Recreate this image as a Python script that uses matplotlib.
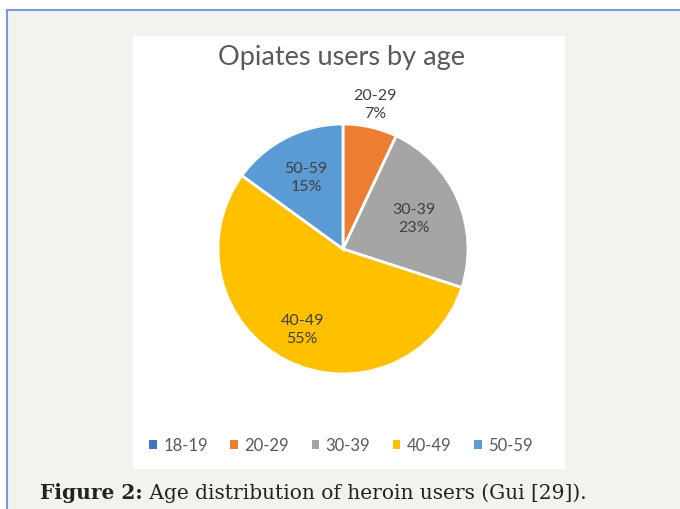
import matplotlib
matplotlib.use("Agg")
import matplotlib.pyplot as plt
from matplotlib.patches import Rectangle
import numpy as np

categories = ["18-19", "20-29", "30-39", "40-49", "50-59"]
values = [0, 7, 23, 55, 15]
colors = ["#4472C4", "#ED7D31", "#A5A5A5", "#FFC000", "#5B9BD5"]
title = "Opiates users by age"
caption_bold = "Figure 2:"
caption_rest = " Age distribution of heroin users (Gui [29])."

W, H = 680, 510
fig = plt.figure(figsize=(W / 100, H / 100), dpi=100)
fig.patch.set_facecolor("white")

def fx(x):
    return x / W

def fy(y):
    return 1 - y / H

# outer page background and border
fig.patches.append(Rectangle((fx(7), 0), 1 - fx(7), fy(11), transform=fig.transFigure,
                             facecolor="#f2f2ee", edgecolor="none", zorder=0))
fig.lines.append(plt.Line2D([fx(7), fx(7)], [0, fy(11)], transform=fig.transFigure,
                            color="#6f9fd8", lw=1.5))
fig.lines.append(plt.Line2D([fx(7), 1], [fy(11), fy(11)], transform=fig.transFigure,
                            color="#6f9fd8", lw=1.5))
# white chart panel
fig.patches.append(Rectangle((fx(133), fy(470)), fx(565) - fx(133), fy(37) - fy(470),
                             transform=fig.transFigure, facecolor="white",
                             edgecolor="none", zorder=1))

cx, cy, r = 343, 250, 125
ax = fig.add_axes([fx(cx - r), fy(cy + r), 2 * r / W, 2 * r / H])
ax.set_zorder(2)
ax.patch.set_alpha(0)
wedges, _ = ax.pie(values, colors=colors, startangle=90, counterclock=False,
                   wedgeprops=dict(edgecolor="white", linewidth=2), radius=1)
ax.set_xlim(-1, 1)
ax.set_ylim(-1, 1)
ax.set_aspect("auto")
ax.axis("off")

label_dist = [0.0, 1.19, 0.62, 0.72, 0.65]
label_font = ["Lato", "DejaVu Sans"]
for w, cat, v, d in zip(wedges, categories, values, label_dist):
    if v == 0:
        continue
    ang = np.deg2rad((w.theta1 + w.theta2) / 2)
    ax.text(d * np.cos(ang), d * np.sin(ang), f"{cat}\n{v}%", ha="center", va="center",
            fontsize=11.5, color="#404040", family=label_font, linespacing=1.35)

fig.text(fx(342), fy(57), title, ha="center", va="center", fontsize=19.5,
         color="#595959", family=label_font, zorder=3)

handles = [Rectangle((0, 0), 1, 1, facecolor=c, edgecolor="none") for c in colors]
leg = fig.legend(handles, categories, loc="center", bbox_to_anchor=(fx(341), fy(446)),
                 ncol=5, frameon=False, handlelength=0.45, handleheight=0.45,
                 handletextpad=0.4, columnspacing=1.35,
                 prop=dict(family=label_font, size=12))
for t in leg.get_texts():
    t.set_color("#595959")

t1 = fig.text(fx(40), fy(493), caption_bold, ha="left", va="center", fontsize=14.5,
              fontweight="bold", family="DejaVu Serif", color="#222222")
fig.canvas.draw()
bb = t1.get_window_extent()
fig.text(bb.x1 / W, fy(493), caption_rest, ha="left", va="center", fontsize=14.5,
         family="DejaVu Serif", color="#222222")

fig.savefig("out.png", dpi=100, facecolor=fig.get_facecolor())
